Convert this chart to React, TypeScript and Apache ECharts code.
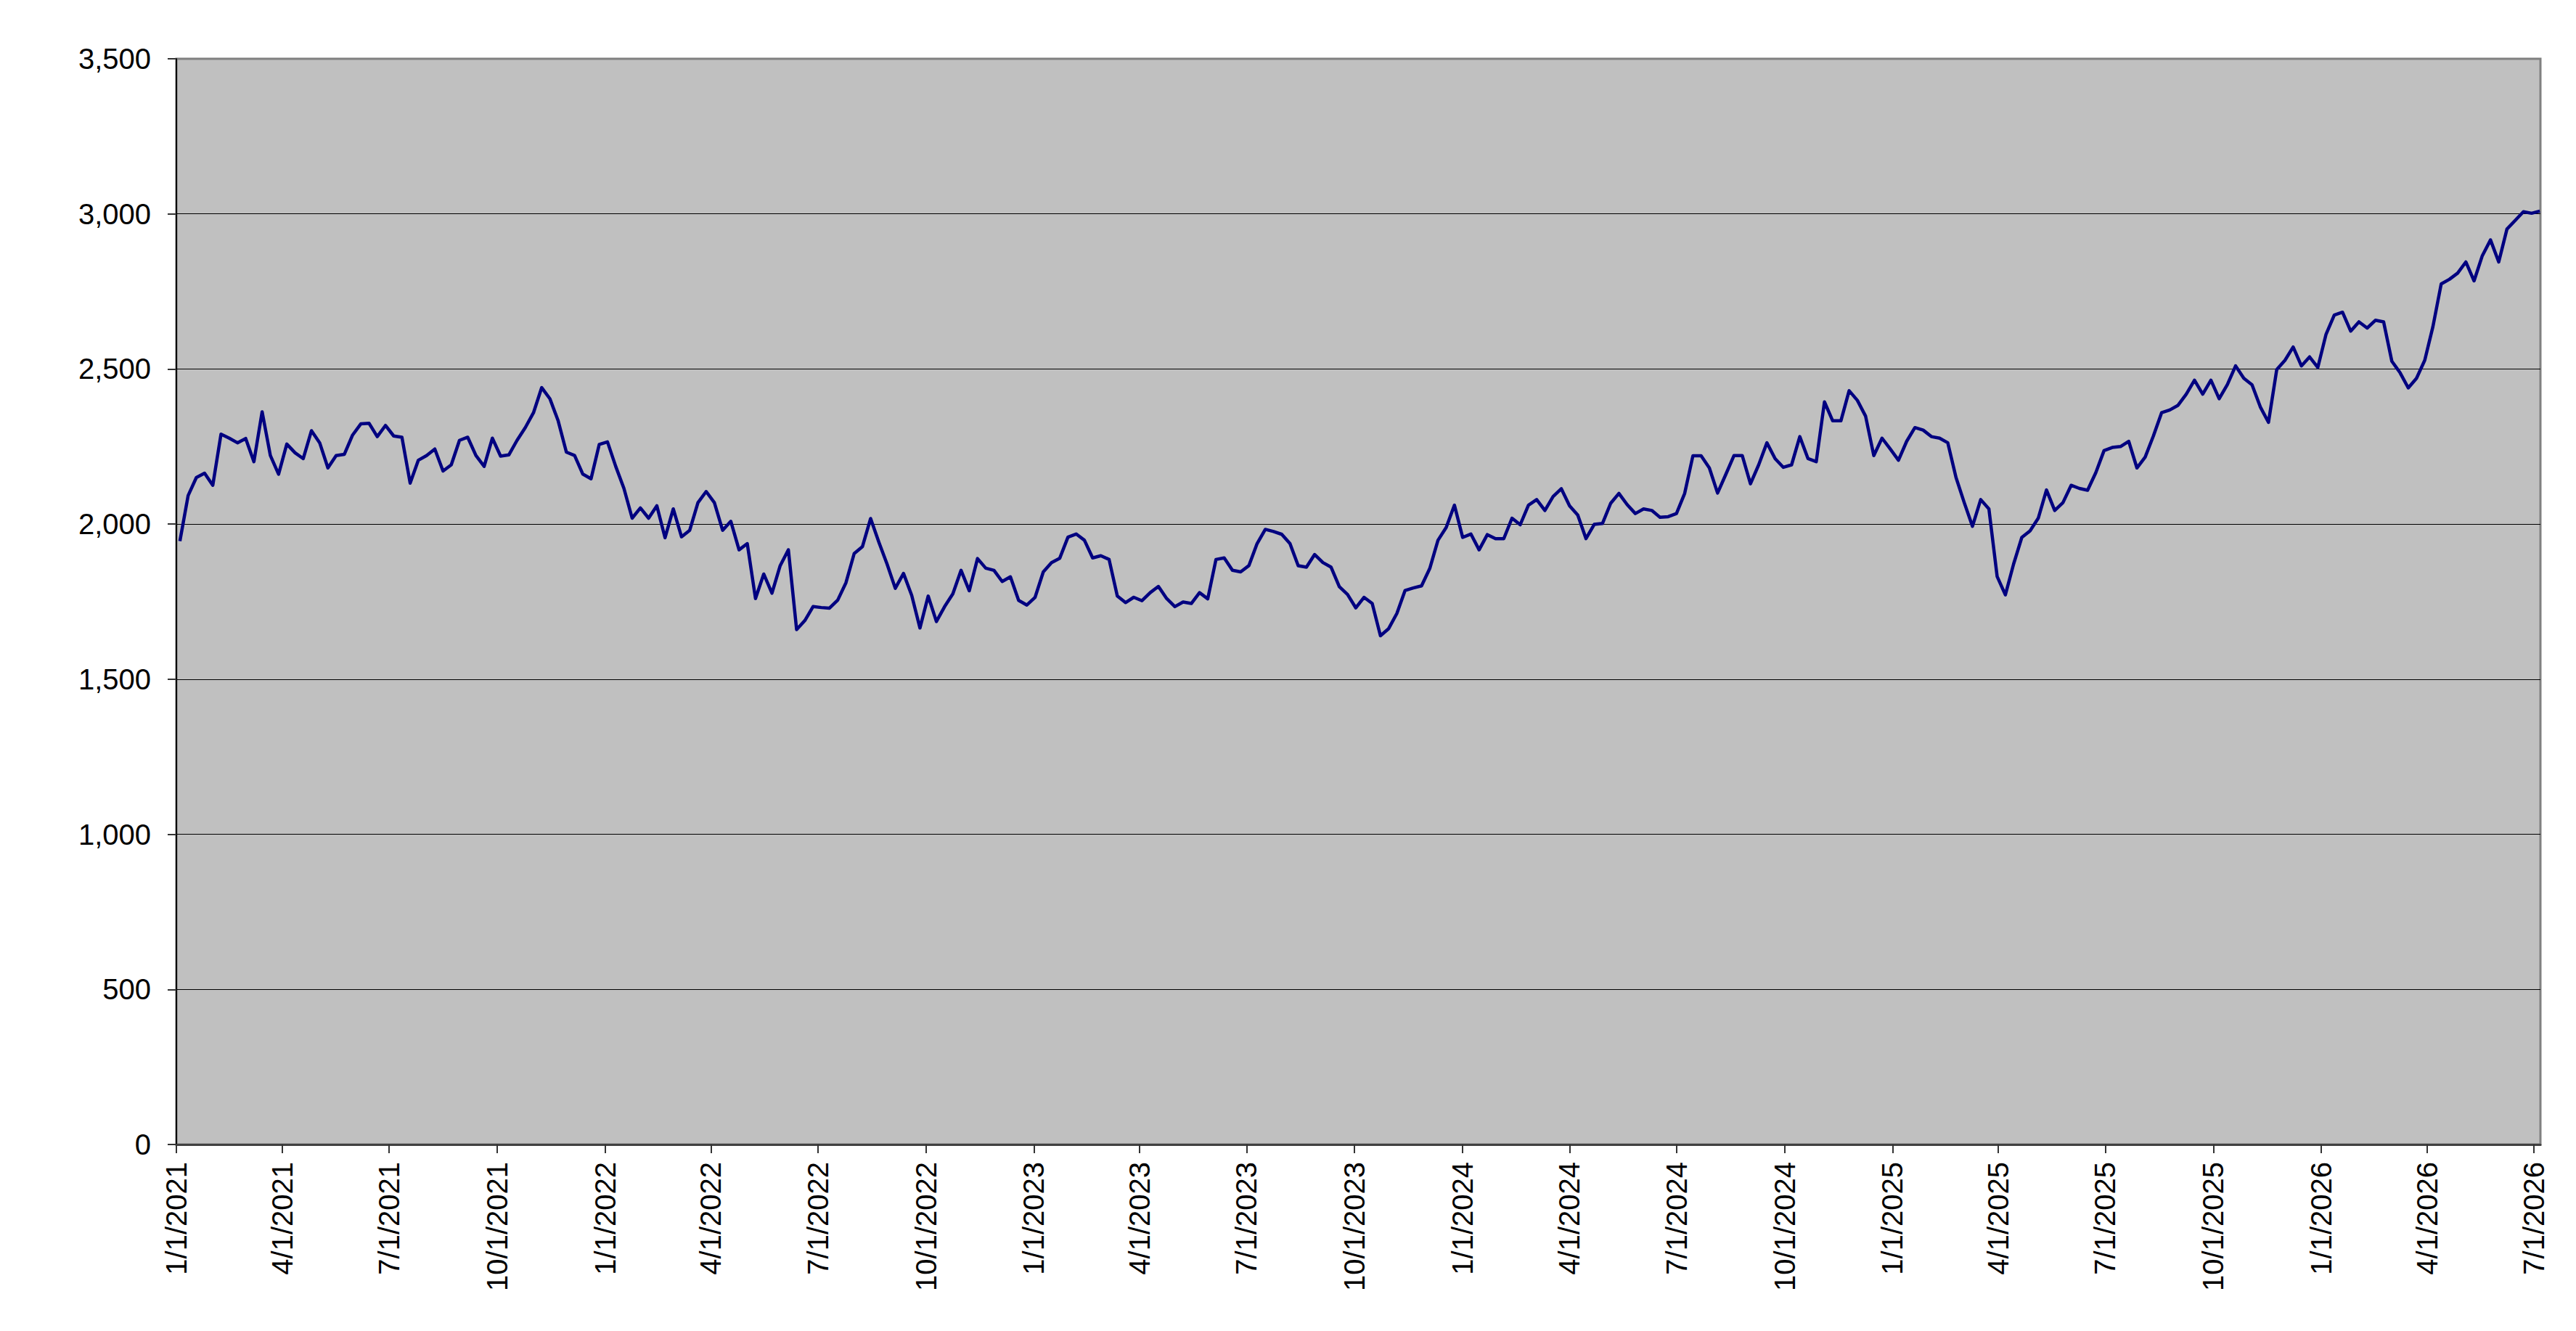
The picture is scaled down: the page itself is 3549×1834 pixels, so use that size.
import React, { useEffect, useRef } from "react";
import * as echarts from "echarts";

// Weekly samples of the index, first sample on the Monday 2021-01-04
const weekStart = "2021-01-04";
const stepDays = 7;
const values: number[] = [
  1945, 2092, 2150, 2164, 2125, 2290, 2277, 2262, 2276, 2201, 2362, 2221, 2161, 2258, 2230, 2211,
  2301, 2262, 2181, 2221, 2225, 2287, 2323, 2325, 2282, 2318, 2284, 2280, 2132, 2206, 2221, 2242,
  2171, 2191, 2270, 2280, 2221, 2186, 2277, 2219, 2223, 2270, 2311, 2359, 2440, 2404, 2333, 2232,
  2221, 2161, 2146, 2257, 2265, 2186, 2115, 2019, 2052, 2019, 2059, 1956, 2049, 1959, 1980, 2069,
  2105, 2069, 1980, 2009, 1917, 1937, 1760, 1839, 1777, 1866, 1917, 1660, 1689, 1734, 1731, 1729,
  1755, 1811, 1905, 1927, 2018, 1942, 1871, 1793, 1841, 1770, 1665, 1768, 1686, 1734, 1775, 1851,
  1785, 1889, 1858, 1851, 1815, 1830, 1754, 1739, 1764, 1846, 1876, 1890, 1958, 1968, 1948, 1891,
  1898, 1886, 1768, 1747, 1764, 1753, 1779, 1799, 1760, 1734, 1749, 1744, 1779, 1759, 1886, 1891,
  1851, 1846, 1866, 1937, 1983, 1976, 1967, 1937, 1866, 1861, 1902, 1876, 1861, 1798, 1773, 1730,
  1764, 1744, 1640, 1663, 1712, 1786, 1794, 1801, 1857, 1948, 1989, 2061, 1957, 1968, 1917, 1966,
  1953, 1953, 2019, 1998, 2061, 2079, 2044, 2089, 2114, 2059, 2029, 1953, 1999, 2002, 2067, 2099,
  2063, 2034, 2049, 2044, 2022, 2024, 2034, 2099, 2220, 2220, 2181, 2100, 2160, 2221, 2221, 2130,
  2191, 2262, 2211, 2183, 2191, 2282, 2211, 2201, 2394, 2333, 2333, 2430, 2399, 2348, 2221, 2277,
  2242, 2206, 2267, 2311, 2303, 2282, 2277, 2262, 2150, 2069, 1993, 2079, 2049, 1831, 1772, 1871,
  1957, 1978, 2019, 2110, 2044, 2069, 2125, 2115, 2109, 2166, 2237, 2247, 2250, 2267, 2181, 2216,
  2284, 2359, 2368, 2383, 2419, 2464, 2419, 2464, 2404, 2450, 2510, 2470, 2449, 2378, 2328, 2498,
  2528, 2571, 2510, 2539, 2505, 2612, 2674, 2683, 2622, 2652, 2632, 2657, 2652, 2525, 2488, 2439,
  2470, 2528, 2637, 2774, 2789, 2809, 2845, 2784, 2865, 2916, 2845, 2951, 2979, 3007, 3002,
];
// Last observation at the right edge of the plot
const lastDate = "2026-07-06";
const lastValue = 3009;

// Quarterly date tick labels on the x axis
const quarterLabels = [
  "1/1/2021", "4/1/2021", "7/1/2021", "10/1/2021",
  "1/1/2022", "4/1/2022", "7/1/2022", "10/1/2022",
  "1/1/2023", "4/1/2023", "7/1/2023", "10/1/2023",
  "1/1/2024", "4/1/2024", "7/1/2024", "10/1/2024",
  "1/1/2025", "4/1/2025", "7/1/2025", "10/1/2025",
  "1/1/2026", "4/1/2026", "7/1/2026",
];
const axisEndLabel = "7/6/2026";

// Value axis ticks
const yMin = 0;
const yMax = 3500;
const yStep = 500;

const DAY = 86400000;
function parseMDY(s: string): number {
  const [m, d, y] = s.split("/").map(Number);
  return Date.UTC(y, m - 1, d);
}
function parseISO(s: string): number {
  const [y, m, d] = s.split("-").map(Number);
  return Date.UTC(y, m - 1, d);
}
function fmtMDY(t: number): string {
  const d = new Date(t);
  return `${d.getUTCMonth() + 1}/${d.getUTCDate()}/${d.getUTCFullYear()}`;
}

const FONT = "'Liberation Sans', Arial, Helvetica, sans-serif";

export default function App() {
  const ref = useRef<HTMLDivElement>(null);

  useEffect(() => {
    if (!ref.current) return;
    const chart = echarts.init(ref.current, undefined, { renderer: "svg" });
    const t0 = parseISO(weekStart);
    const data: number[][] = values.map((v, i) => [t0 + i * stepDays * DAY, v]);
    data.push([parseISO(lastDate), lastValue]);
    const quarterTimes = quarterLabels.map(parseMDY);

    chart.setOption({
      animation: false,
      backgroundColor: "#ffffff",
      grid: {
        left: 243,
        top: 81,
        right: 49,
        bottom: 257,
        show: true,
        backgroundColor: "#C0C0C0",
        borderColor: "#808080",
        borderWidth: 3,
        containLabel: false,
        outerBoundsMode: "none",
      },
      xAxis: {
        type: "value",
        min: quarterTimes[0],
        max: parseMDY(axisEndLabel) + DAY / 2,
        axisLine: { show: true, onZero: false, lineStyle: { color: "#404040", width: 3 } },
        axisTick: {
          show: true,
          customValues: quarterTimes,
          length: 12,
          inside: false,
          lineStyle: { color: "#333333", width: 2 },
        },
        axisLabel: {
          show: true,
          customValues: quarterTimes,
          rotate: 90,
          margin: 24,
          fontSize: 40,
          fontFamily: FONT,
          color: "#000000",
          formatter: (v: number) => fmtMDY(v),
        },
        splitLine: { show: false },
      },
      yAxis: {
        type: "value",
        min: yMin,
        max: yMax,
        interval: yStep,
        axisLine: { show: true, lineStyle: { color: "#000000", width: 2 } },
        axisTick: { show: true, length: 12, inside: false, lineStyle: { color: "#333333", width: 2 } },
        axisLabel: {
          show: true,
          margin: 35,
          fontSize: 40,
          fontFamily: FONT,
          color: "#000000",
          formatter: (v: number) => v.toLocaleString("en-US"),
        },
        splitLine: {
          show: true,
          showMinLine: false,
          showMaxLine: false,
          lineStyle: { color: "#000000", width: 1.2 },
        },
      },
      series: [
        {
          type: "line",
          data,
          showSymbol: false,
          symbol: "none",
          smooth: false,
          lineStyle: { color: "#000080", width: 4.5, join: "round" },
          z: 5,
        },
      ],
    });

    return () => {
      chart.dispose();
    };
  }, []);

  return (
    <div
      ref={ref}
      style={{ position: "absolute", left: 0, top: 0, width: 3549, height: 1834 }}
    />
  );
}
